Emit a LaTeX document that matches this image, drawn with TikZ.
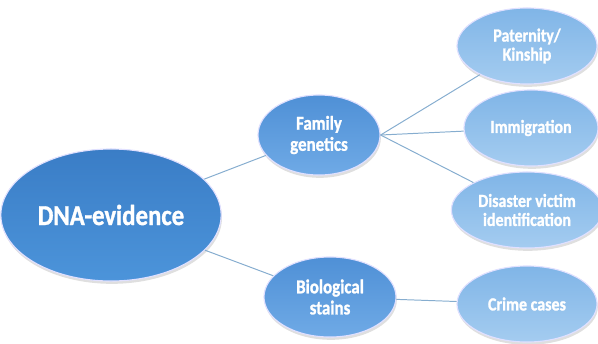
\documentclass[tikz,border=0pt]{standalone}
\usepackage{fontspec}
\setmainfont{Carlito}[FakeStretch=0.86, BoldFeatures={FakeBold=1.2}]
\usepackage{tikz}
\usetikzlibrary{shapes.geometric,shadows}

\definecolor{rootA}{HTML}{3A7DC6}
\definecolor{rootB}{HTML}{4C94DA}
\definecolor{midA}{HTML}{4F90D6}
\definecolor{midB}{HTML}{6FAAE6}
\definecolor{leafA}{HTML}{80B5E7}
\definecolor{leafB}{HTML}{A4CCF0}
\definecolor{linkcol}{HTML}{86ADCF}

\begin{document}
\begin{tikzpicture}[
  x=0.025cm, y=-0.025cm,
  bubble/.style={ellipse, draw=white!70!blue!40, line width=0.8pt, align=center, text=white, font=\bfseries,
    drop shadow={opacity=0.25, shadow xshift=0.6pt, shadow yshift=-2pt}},
  root/.style={bubble, top color=rootA, bottom color=rootB, minimum width=5.15cm, minimum height=3.3cm, font=\bfseries\fontsize{20.5}{24}\selectfont},
  mid/.style={bubble, top color=midA, bottom color=midB, minimum height=2cm, font=\bfseries\fontsize{14}{15}\selectfont},
  leaf/.style={bubble, top color=leafA, bottom color=leafB, minimum width=3.5cm, minimum height=1.9cm, font=\bfseries\fontsize{13.2}{13.5}\selectfont},
  link/.style={draw=linkcol, line width=0.7pt}
]
\useasboundingbox (0,0) rectangle (598,343);

\node[root] (dna) at (111,215) {DNA-evidence};

\node[mid, minimum width=3.05cm] (family) at (319,135) {Family\\genetics};
\node[mid, minimum width=3.3cm] (bio) at (330,297) {Biological\\stains};

\node[leaf] (kin) at (527,46) {Paternity/\\Kinship};
\node[leaf, minimum width=3.35cm] (immi) at (531,128) {Immigration};
\node[leaf] (disaster) at (527,210) {Disaster victim\\identification};
\node[leaf] (crime) at (527,304) {Crime cases};

\draw[link] (dna) -- (family);
\draw[link] (dna) -- (bio);
\draw[link] (family.east) -- (kin);
\draw[link] (family.east) -- (immi);
\draw[link] (family.east) -- (disaster);
\draw[link] (bio) -- (crime);
\end{tikzpicture}
\end{document}
